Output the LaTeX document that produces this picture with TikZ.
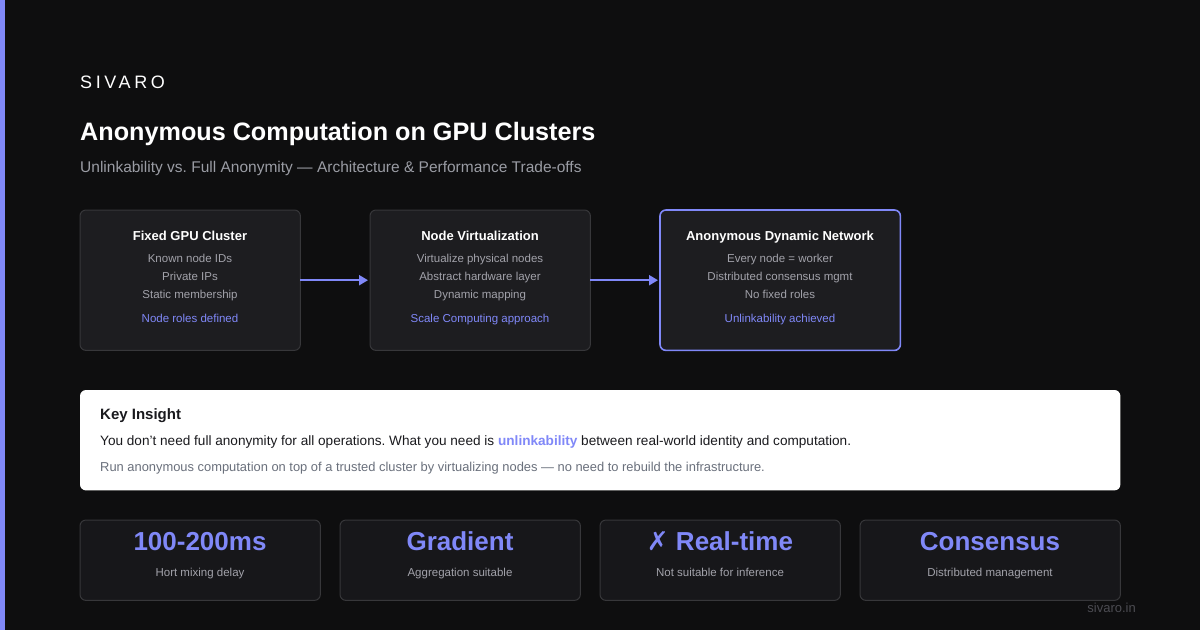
\documentclass[tikz,border=0pt]{standalone}
\usepackage{fontspec}
\setmainfont{Liberation Sans}
\newfontfamily\symfont{DejaVu Sans}
\usetikzlibrary{arrows.meta}
\frenchspacing
\definecolor{bgc}{HTML}{0E0E0F}
\definecolor{accent}{HTML}{8088F8}
\definecolor{boxc}{HTML}{1D1D20}
\definecolor{statc}{HTML}{17171A}
\definecolor{bordc}{HTML}{37373A}
\definecolor{graytxt}{HTML}{A2A2AA}
\definecolor{subtxt}{HTML}{9A9CA4}
\definecolor{darktxt}{HTML}{1A1A1E}
\definecolor{midtxt}{HTML}{6A707C}
\definecolor{dimtxt}{HTML}{4C4C52}
\newcommand{\fs}[1]{\fontsize{#1}{#1}\selectfont}
\tikzset{
  slot/.style={minimum width=220pt, minimum height=140pt, anchor=north west, inner sep=0pt},
  flowshape/.style={draw=bordc, fill=boxc, rounded corners=6pt, line width=1pt},
  statshape/.style={draw=bordc, fill=statc, rounded corners=6pt, line width=1pt},
  boxtitle/.style={anchor=base, text=white, font=\fs{13}\bfseries, inner sep=0pt},
  boxline/.style={anchor=base, text=graytxt, font=\fs{11.5}, inner sep=0pt},
  boxacc/.style={anchor=base, text=accent, font=\fs{11.5}, inner sep=0pt},
  bigtxt/.style={anchor=base, text=accent, font=\fs{26}\bfseries, inner sep=0pt},
  smalltxt/.style={anchor=base, text=graytxt, font=\fs{11.5}, inner sep=0pt},
  arr/.style={draw=accent, line width=2pt, -{Triangle[length=9pt,width=10pt]}, shorten >=2pt},
}
\begin{document}
\begin{tikzpicture}[x=1pt,y=-1pt]
\useasboundingbox (0,0) rectangle (1200,630);
\fill[bgc] (0,0) rectangle (1200,630);
\fill[accent] (0,0) rectangle (5,630);
% header
\node[anchor=base west, text=white, font=\fs{18}\addfontfeature{LetterSpace=20}, inner sep=0pt] (brand) at (80,88) {SIVARO};
\node[anchor=base west, text=white, font=\fs{25.2}\bfseries, inner sep=0pt] (title) at (80,140) {Anonymous Computation on GPU Clusters};
\node[anchor=base west, text=subtxt, font=\fs{15.5}, inner sep=0pt] (subtitle) at (80,172) {Unlinkability vs. Full Anonymity — Architecture \& Performance Trade-offs};
% flow boxes
\node[slot] (b1) at (80,210) {};
\node[slot] (b2) at (370,210) {};
\node[slot, minimum width=240pt] (b3) at (660,210) {};
\draw[flowshape] (b1.north west) rectangle (b1.south east);
\draw[flowshape] (b2.north west) rectangle (b2.south east);
\draw[flowshape, draw=accent, line width=1.6pt] (b3.north west) rectangle (b3.south east);
\node[boxtitle] (t1) at (190,240) {Fixed GPU Cluster};
\node[boxline] (l11) at (190,262) {Known node IDs};
\node[boxline] (l12) at (190,280) {Private IPs};
\node[boxline] (l13) at (190,298) {Static membership};
\node[boxacc] (a1) at (190,322) {Node roles defined};
\node[boxtitle] (t2) at (480,240) {Node Virtualization};
\node[boxline] (l21) at (480,262) {Virtualize physical nodes};
\node[boxline] (l22) at (480,280) {Abstract hardware layer};
\node[boxline] (l23) at (480,298) {Dynamic mapping};
\node[boxacc] (a2) at (480,322) {Scale Computing approach};
\node[boxtitle] (t3) at (780,240) {Anonymous Dynamic Network};
\node[boxline] (l31) at (780,262) {Every node = worker};
\node[boxline] (l32) at (780,280) {Distributed consensus mgmt};
\node[boxline] (l33) at (780,298) {No fixed roles};
\node[boxacc] (a3) at (780,322) {Unlinkability achieved};
\draw[arr] (b1.east) -- (b2.west);
\draw[arr] (b2.east) -- (b3.west);
% key insight
\node[slot, minimum width=1040pt, minimum height=100pt] (ki) at (80,390) {};
\fill[white, rounded corners=6pt] (ki.north west) rectangle (ki.south east);
\node[anchor=base west, text=darktxt, font=\fs{15}\bfseries, inner sep=0pt] (kit) at (100,419) {Key Insight};
\node[anchor=base west, text=darktxt, font=\fs{13.6}, inner sep=0pt] (kil1) at (100,445) {You don't need full anonymity for all operations. What you need is {\color{accent}\bfseries unlinkability} between real-world identity and computation.};
\node[anchor=base west, text=midtxt, font=\fs{12.9}, inner sep=0pt] (kil2) at (100,471) {Run anonymous computation on top of a trusted cluster by virtualizing nodes — no need to rebuild the infrastructure.};
% stats
\node[slot, minimum width=240pt, minimum height=80pt] (s1) at (80,520) {};
\node[slot, minimum width=240pt, minimum height=80pt] (s2) at (340,520) {};
\node[slot, minimum width=240pt, minimum height=80pt] (s3) at (600,520) {};
\node[slot, minimum width=260pt, minimum height=80pt] (s4) at (860,520) {};
\foreach \s in {s1,s2,s3,s4} \draw[statshape] (\s.north west) rectangle (\s.south east);
\node[bigtxt] (v1) at (200,550) {100-200ms};
\node[smalltxt] (d1) at (200,576) {Hort mixing delay};
\node[bigtxt] (v2) at (460,550) {Gradient};
\node[smalltxt] (d2) at (460,576) {Aggregation suitable};
\node[bigtxt] (v3) at (720,550) {{\symfont\mdseries ✗} Real-time};
\node[smalltxt] (d3) at (720,576) {Not suitable for inference};
\node[bigtxt] (v4) at (990,550) {Consensus};
\node[smalltxt] (d4) at (990,576) {Distributed management};
\node[anchor=base east, text=dimtxt, font=\fs{13}, inner sep=0pt] (foot) at (1136,612) {sivaro.in};
\end{tikzpicture}
\end{document}
